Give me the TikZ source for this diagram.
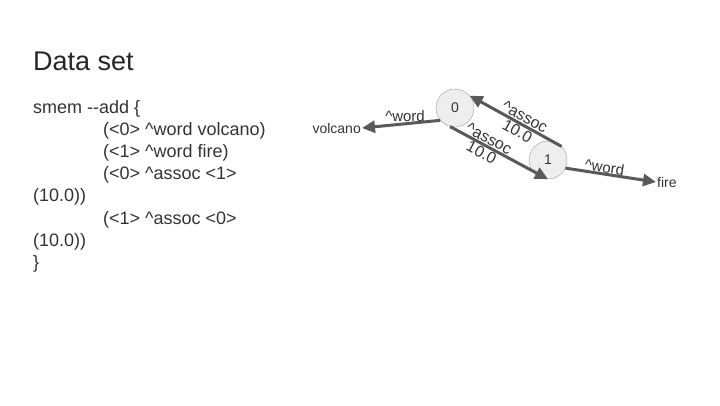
\documentclass[tikz,border=0pt]{standalone}
\usepackage{fontspec}
\setmainfont{Liberation Sans}
\usetikzlibrary{arrows.meta}

\definecolor{arrowgray}{HTML}{595959}
\definecolor{textgray}{HTML}{333333}
\definecolor{nodefill}{HTML}{EEEEEE}
\definecolor{nodeline}{HTML}{9E9E9E}

\tikzset{
  smemnode/.style={circle, draw=nodeline, fill=nodefill, minimum size=38pt, inner sep=0pt, font=\fontsize{14}{16}\selectfont, text=textgray},
  leaf/.style={font=\fontsize{14}{16}\selectfont, text=textgray, inner sep=1pt},
  link/.style={->, line width=3pt, draw=arrowgray},
  linklabel/.style={font=\fontsize{16}{16}\selectfont, text=textgray, sloped, inner sep=1pt, align=center}
}

\begin{document}
\begin{tikzpicture}[x=1pt,y=-1pt,>={Triangle[length=13pt,width=12pt]}]
\useasboundingbox (0,0) rectangle (720,405);
% slide text
\node[anchor=base west, inner sep=0pt, font=\fontsize{27}{32}\selectfont, text=black!85] (title) at (33,70) {Data set};
% base = last line (the closing brace)
\node[anchor=base west, inner sep=0pt, align=left, font=\fontsize{18}{22.2}\selectfont, text=textgray] (code) at (33,268.4)
  {smem -{}-add \{\\
   \hspace*{70pt}(<0> \textasciicircum word volcano)\\
   \hspace*{70pt}(<1> \textasciicircum word fire)\\
   \hspace*{70pt}(<0> \textasciicircum assoc <1>\\
   (10.0))\\
   \hspace*{70pt}(<1> \textasciicircum assoc <0>\\
   (10.0))\\
   \}};
% graph
\node[smemnode] (n0) at (455,108) {0};
\node[smemnode] (n1) at (548,160) {1};
\node[leaf, anchor=east] (volcano) at (362,128) {volcano};
\node[leaf, anchor=west] (fire) at (656,182) {fire};

\draw[link] (n0.220) -- node[leaf, above, pos=0.45, font=\fontsize{15}{16}\selectfont] {\textasciicircum word} (volcano.east);
\draw[link] (n1.45) -- node[linklabel, pos=0.44] {\textasciicircum assoc\\10.0} (n0.40);
\draw[link] (n0.255) -- node[linklabel, pos=0.36] {\textasciicircum assoc\\10.0} (n1.south);
\draw[link] (n1.335) -- node[linklabel, above, pos=0.42, inner sep=0pt, font=\fontsize{15}{16}\selectfont] {\textasciicircum word} (fire.west);
\end{tikzpicture}
\end{document}
